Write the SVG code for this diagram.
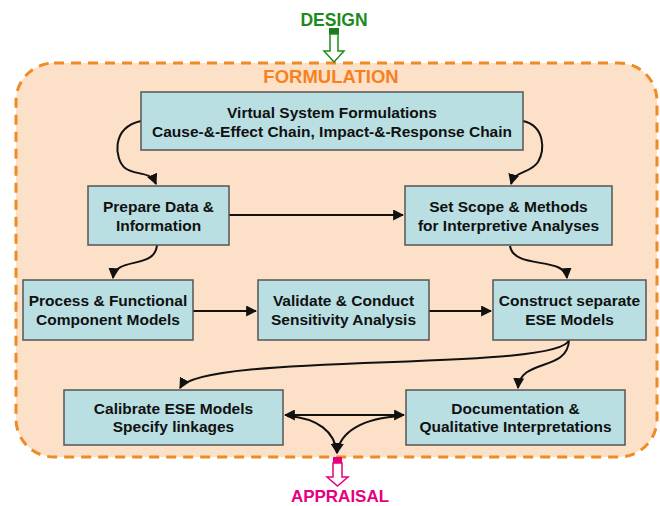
<svg xmlns="http://www.w3.org/2000/svg" width="660" height="506" viewBox="0 0 660 506">
<defs>
<marker id="ah" viewBox="0 0 10 10" refX="9" refY="5" markerWidth="11" markerHeight="11" markerUnits="userSpaceOnUse" orient="auto-start-reverse">
<path d="M0,0 L10,5 L0,10 z" fill="#111"/>
</marker>
<style>
.box{fill:#b9dfe3;stroke:#555;stroke-width:1.5}
.t{font-family:"Liberation Sans",Arial,sans-serif;font-weight:bold;font-size:15.5px;fill:#111;text-anchor:middle}
.c{fill:none;stroke:#111;stroke-width:2}
.lbl{font-family:"Liberation Sans",Arial,sans-serif;font-weight:bold;text-anchor:middle}
</style>
</defs>
<rect width="660" height="506" fill="#fff"/>
<g id="formulation">
<rect x="16" y="63" width="641" height="394" rx="38" ry="38" fill="#fde0c8" stroke="#f08a24" stroke-width="3" stroke-dasharray="10 7"/>
<text class="lbl" x="331" y="83" font-size="18.5" fill="#f5821f">FORMULATION</text>
</g>
<g id="design">
<text class="lbl" x="334" y="26" font-size="17.5" fill="#1e8a1e">DESIGN</text>
<rect x="329" y="28" width="10" height="6" fill="#1e7a1e"/>
<path d="M330,34 L338,34 L338,51 L344,51 L334,62 L324,51 L330,51 z" fill="#fff" stroke="#1e8a1e" stroke-width="1.5"/>
</g>
<g id="appraisal">
<rect x="333" y="457" width="9" height="6" fill="#e6007e"/>
<path d="M333,463 L342,463 L342,477 L348,477 L337.5,486 L327,477 L333,477 z" fill="#fff" stroke="#e6007e" stroke-width="1.5"/>
<text class="lbl" x="340" y="502" font-size="17" fill="#e6007e">APPRAISAL</text>
</g>
<g id="connectors">
<path class="c" d="M141,121 C110,128 115,160 125,168 C135,176 150,170 156,184" marker-end="url(#ah)"/>
<path class="c" d="M523,121 C545,126 545,150 538,162 C530,174 515,170 511,184" marker-end="url(#ah)"/>
<path class="c" d="M229,215 L403,215" marker-end="url(#ah)"/>
<path class="c" d="M157,245 C155,270 115,256 113,278" marker-end="url(#ah)"/>
<path class="c" d="M510,246 C514,270 565,256 567,278" marker-end="url(#ah)"/>
<path class="c" d="M193,311 L256,311" marker-end="url(#ah)"/>
<path class="c" d="M429,311 L491,311" marker-end="url(#ah)"/>
<path class="c" d="M569,340 C568,372 520,358 518,388" marker-end="url(#ah)"/>
<path class="c" d="M569,340 C560,372 200,352 180,388" marker-end="url(#ah)"/>
<path class="c" d="M285,415 L404,415" marker-start="url(#ah)" marker-end="url(#ah)"/>
<path class="c" d="M287,416 C318,418 335,432 337,453" marker-end="url(#ah)"/>
<path class="c" d="M402,416 C362,418 340,432 337,453" marker-end="url(#ah)"/>
</g>
<g id="n1"><rect class="box" x="141" y="92" width="382" height="58"/>
<text class="t" x="332" y="118">Virtual System Formulations</text>
<text class="t" x="332" y="137">Cause-&amp;-Effect Chain, Impact-&amp;-Response Chain</text></g>
<g id="n2"><rect class="box" x="88" y="186" width="141" height="59"/>
<text class="t" x="158.5" y="212">Prepare Data &amp;</text>
<text class="t" x="158.5" y="231">Information</text></g>
<g id="n3"><rect class="box" x="405" y="186" width="207" height="59"/>
<text class="t" x="508.5" y="212">Set Scope &amp; Methods</text>
<text class="t" x="508.5" y="231">for Interpretive Analyses</text></g>
<g id="n4"><rect class="box" x="23" y="280" width="170" height="60"/>
<text class="t" x="108" y="306">Process &amp; Functional</text>
<text class="t" x="108" y="325">Component Models</text></g>
<g id="n5"><rect class="box" x="258" y="280" width="171" height="60"/>
<text class="t" x="343.5" y="306">Validate &amp; Conduct</text>
<text class="t" x="343.5" y="325">Sensitivity Analysis</text></g>
<g id="n6"><rect class="box" x="493" y="280" width="153" height="60"/>
<text class="t" x="569.5" y="306">Construct separate</text>
<text class="t" x="569.5" y="325">ESE Models</text></g>
<g id="n7"><rect class="box" x="64" y="390" width="219" height="55"/>
<text class="t" x="173.5" y="414">Calibrate ESE Models</text>
<text class="t" x="173.5" y="432">Specify linkages</text></g>
<g id="n8"><rect class="box" x="406" y="390" width="219" height="55"/>
<text class="t" x="515.5" y="414">Documentation &amp;</text>
<text class="t" x="515.5" y="432">Qualitative Interpretations</text></g>
</svg>
